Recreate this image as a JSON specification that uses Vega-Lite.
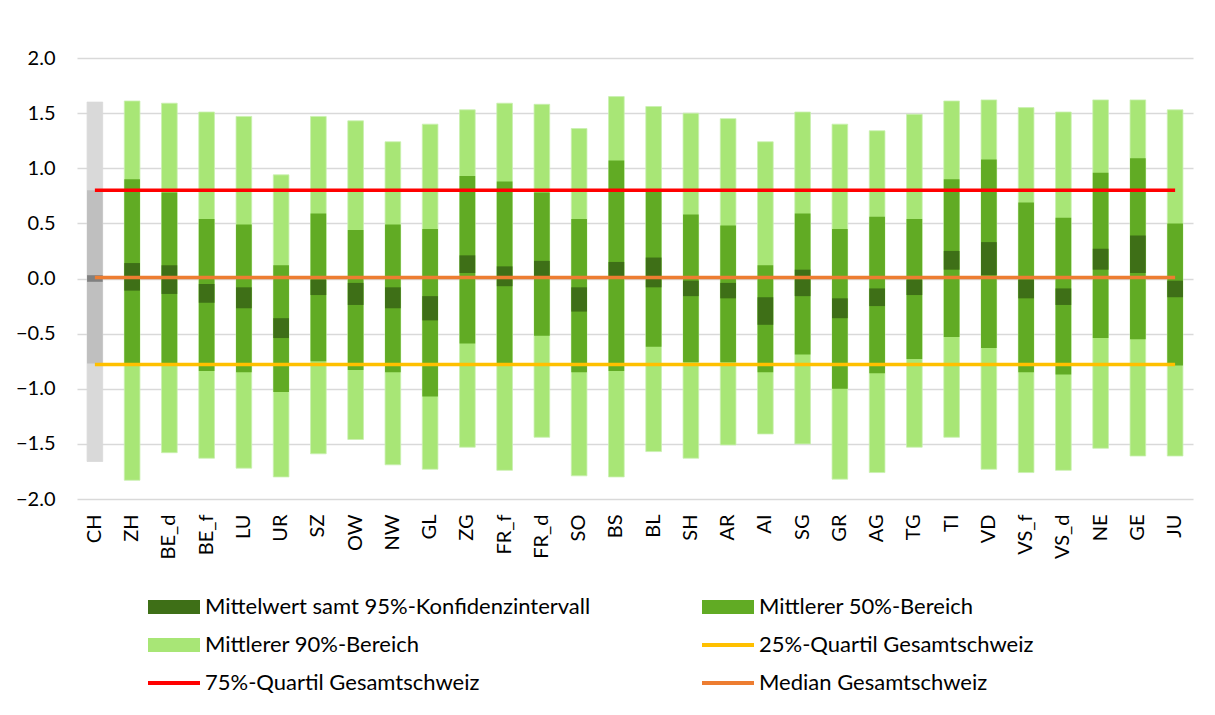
{
  "$schema": "https://vega.github.io/schema/vega-lite/v6.json",
  "width": 1116,
  "height": 441,
  "autosize": {"type": "none"},
  "padding": {"left": 77, "top": 58, "right": 22, "bottom": 216},
  "background": "white",
  "config": {
    "view": {"stroke": null},
    "font": "Lato",
    "axis": {"labelFont": "Lato", "labelFontSize": 20, "labelColor": "#000000", "domain": false, "ticks": false, "title": null}
  },
  "datasets": {
    "ranges": [
      {"cat": "CH", "p05": -1.66, "p95": 1.60, "q25": -0.77, "q75": 0.80, "lo": -0.03, "hi": 0.03},
      {"cat": "ZH", "p05": -1.83, "p95": 1.61, "q25": -0.78, "q75": 0.90, "lo": -0.11, "hi": 0.14},
      {"cat": "BE_d", "p05": -1.58, "p95": 1.59, "q25": -0.78, "q75": 0.78, "lo": -0.14, "hi": 0.12},
      {"cat": "BE_f", "p05": -1.63, "p95": 1.51, "q25": -0.84, "q75": 0.54, "lo": -0.22, "hi": -0.05},
      {"cat": "LU", "p05": -1.72, "p95": 1.47, "q25": -0.85, "q75": 0.49, "lo": -0.27, "hi": -0.08},
      {"cat": "UR", "p05": -1.80, "p95": 0.94, "q25": -1.03, "q75": 0.12, "lo": -0.54, "hi": -0.36},
      {"cat": "SZ", "p05": -1.59, "p95": 1.47, "q25": -0.75, "q75": 0.59, "lo": -0.15, "hi": -0.01},
      {"cat": "OW", "p05": -1.46, "p95": 1.43, "q25": -0.83, "q75": 0.44, "lo": -0.24, "hi": -0.04},
      {"cat": "NW", "p05": -1.69, "p95": 1.24, "q25": -0.85, "q75": 0.49, "lo": -0.27, "hi": -0.08},
      {"cat": "GL", "p05": -1.73, "p95": 1.40, "q25": -1.07, "q75": 0.45, "lo": -0.38, "hi": -0.16},
      {"cat": "ZG", "p05": -1.53, "p95": 1.53, "q25": -0.59, "q75": 0.93, "lo": 0.05, "hi": 0.21},
      {"cat": "FR_f", "p05": -1.74, "p95": 1.59, "q25": -0.77, "q75": 0.88, "lo": -0.07, "hi": 0.11},
      {"cat": "FR_d", "p05": -1.44, "p95": 1.58, "q25": -0.52, "q75": 0.78, "lo": 0.02, "hi": 0.16},
      {"cat": "SO", "p05": -1.79, "p95": 1.36, "q25": -0.85, "q75": 0.54, "lo": -0.30, "hi": -0.08},
      {"cat": "BS", "p05": -1.80, "p95": 1.65, "q25": -0.84, "q75": 1.07, "lo": 0.01, "hi": 0.15},
      {"cat": "BL", "p05": -1.57, "p95": 1.56, "q25": -0.62, "q75": 0.79, "lo": -0.08, "hi": 0.19},
      {"cat": "SH", "p05": -1.63, "p95": 1.50, "q25": -0.76, "q75": 0.58, "lo": -0.16, "hi": -0.02},
      {"cat": "AR", "p05": -1.51, "p95": 1.45, "q25": -0.76, "q75": 0.48, "lo": -0.18, "hi": -0.04},
      {"cat": "AI", "p05": -1.41, "p95": 1.24, "q25": -0.85, "q75": 0.12, "lo": -0.42, "hi": -0.17},
      {"cat": "SG", "p05": -1.50, "p95": 1.51, "q25": -0.69, "q75": 0.59, "lo": -0.16, "hi": 0.08},
      {"cat": "GR", "p05": -1.82, "p95": 1.40, "q25": -1.00, "q75": 0.45, "lo": -0.36, "hi": -0.18},
      {"cat": "AG", "p05": -1.76, "p95": 1.34, "q25": -0.86, "q75": 0.56, "lo": -0.25, "hi": -0.09},
      {"cat": "TG", "p05": -1.53, "p95": 1.49, "q25": -0.73, "q75": 0.54, "lo": -0.15, "hi": -0.01},
      {"cat": "TI", "p05": -1.44, "p95": 1.61, "q25": -0.53, "q75": 0.90, "lo": 0.08, "hi": 0.25},
      {"cat": "VD", "p05": -1.73, "p95": 1.62, "q25": -0.63, "q75": 1.08, "lo": 0.03, "hi": 0.33},
      {"cat": "VS_f", "p05": -1.76, "p95": 1.55, "q25": -0.85, "q75": 0.69, "lo": -0.18, "hi": -0.01},
      {"cat": "VS_d", "p05": -1.74, "p95": 1.51, "q25": -0.87, "q75": 0.55, "lo": -0.24, "hi": -0.09},
      {"cat": "NE", "p05": -1.54, "p95": 1.62, "q25": -0.54, "q75": 0.96, "lo": 0.08, "hi": 0.27},
      {"cat": "GE", "p05": -1.61, "p95": 1.62, "q25": -0.55, "q75": 1.09, "lo": 0.05, "hi": 0.39},
      {"cat": "JU", "p05": -1.61, "p95": 1.53, "q25": -0.79, "q75": 0.50, "lo": -0.17, "hi": -0.02}
    ],
    "lines": [
      {"cat": "CH", "v": -0.78, "s": "25%-Quartil Gesamtschweiz"},
      {"cat": "JU", "v": -0.78, "s": "25%-Quartil Gesamtschweiz"},
      {"cat": "CH", "v": 0.80, "s": "75%-Quartil Gesamtschweiz"},
      {"cat": "JU", "v": 0.80, "s": "75%-Quartil Gesamtschweiz"},
      {"cat": "CH", "v": 0.01, "s": "Median Gesamtschweiz"},
      {"cat": "JU", "v": 0.01, "s": "Median Gesamtschweiz"}
    ]
  },
  "encoding": {
    "x": {
      "field": "cat",
      "type": "nominal",
      "scale": {
        "domain": ["CH","ZH","BE_d","BE_f","LU","UR","SZ","OW","NW","GL","ZG","FR_f","FR_d","SO","BS","BL","SH","AR","AI","SG","GR","AG","TG","TI","VD","VS_f","VS_d","NE","GE","JU"],
        "paddingInner": 0.58,
        "paddingOuter": 0.27
      },
      "axis": {"labelAngle": 270, "labelPadding": 15, "grid": false, "labelBaseline": "middle"}
    }
  },
  "layer": [
    {
      "data": {"name": "ranges"},
      "mark": {"type": "bar", "strokeWidth": 0.8},
      "encoding": {
        "y": {
          "field": "p05",
          "type": "quantitative",
          "scale": {"domain": [-2, 2], "nice": false},
          "axis": {"values": [-2, -1.5, -1, -0.5, 0, 0.5, 1, 1.5, 2], "format": ".1f", "labelPadding": 22, "grid": true, "gridColor": "#D9D9D9", "gridWidth": 1.5}
        },
        "y2": {"field": "p95"},
        "stroke": {"condition": {"test": "datum.cat === 'CH'", "value": "#D9D9D9"}, "value": "#C9F0B0"},
        "color": {
          "datum": "Mittlerer 90%-Bereich",
          "condition": {"test": "datum.cat === 'CH'", "value": "#D9D9D9"},
          "scale": {
            "domain": ["Mittelwert samt 95%-Konfidenzintervall", "Mittlerer 90%-Bereich", "75%-Quartil Gesamtschweiz", "Mittlerer 50%-Bereich", "25%-Quartil Gesamtschweiz", "Median Gesamtschweiz"],
            "range": ["#3E6F17", "#A8E676", "#FF0000", "#61AB24", "#FFC000", "#ED7D31"]
          },
          "legend": {
            "title": null,
            "orient": "none",
            "legendX": 71,
            "legendY": 523,
            "direction": "vertical",
            "columns": 2,
            "columnPadding": 111,
            "rowPadding": 1,
            "padding": 0,
            "labelFont": "Lato",
            "labelFontSize": 22,
            "labelColor": "#000000",
            "labelOffset": 5,
            "labelLimit": 600,
            "symbolSize": 2704,
            "symbolStrokeWidth": 0,
            "symbolOpacity": 1,
            "symbolType": {"expr": "(datum.value === 'Mittelwert samt 95%-Konfidenzintervall' || datum.value === 'Mittlerer 50%-Bereich' || datum.value === 'Mittlerer 90%-Bereich') ? 'M-1,-0.27H1V0.27H-1Z' : 'M-1,-0.08H1V0.08H-1Z'"}
          }
        }
      }
    },
    {
      "data": {"name": "ranges"},
      "mark": {"type": "bar"},
      "encoding": {
        "y": {"field": "q25", "type": "quantitative"},
        "y2": {"field": "q75"},
        "color": {
          "datum": "Mittlerer 50%-Bereich",
          "condition": {"test": "datum.cat === 'CH'", "value": "#BFBFBF"}
        }
      }
    },
    {
      "data": {"name": "ranges"},
      "mark": {"type": "bar"},
      "encoding": {
        "y": {"field": "lo", "type": "quantitative"},
        "y2": {"field": "hi"},
        "color": {
          "datum": "Mittelwert samt 95%-Konfidenzintervall",
          "condition": {"test": "datum.cat === 'CH'", "value": "#808080"}
        }
      }
    },
    {
      "data": {"name": "lines"},
      "mark": {"type": "line", "strokeWidth": 3.5},
      "encoding": {
        "y": {"field": "v", "type": "quantitative"},
        "color": {"field": "s", "type": "nominal", "legend": null}
      }
    }
  ]
}
